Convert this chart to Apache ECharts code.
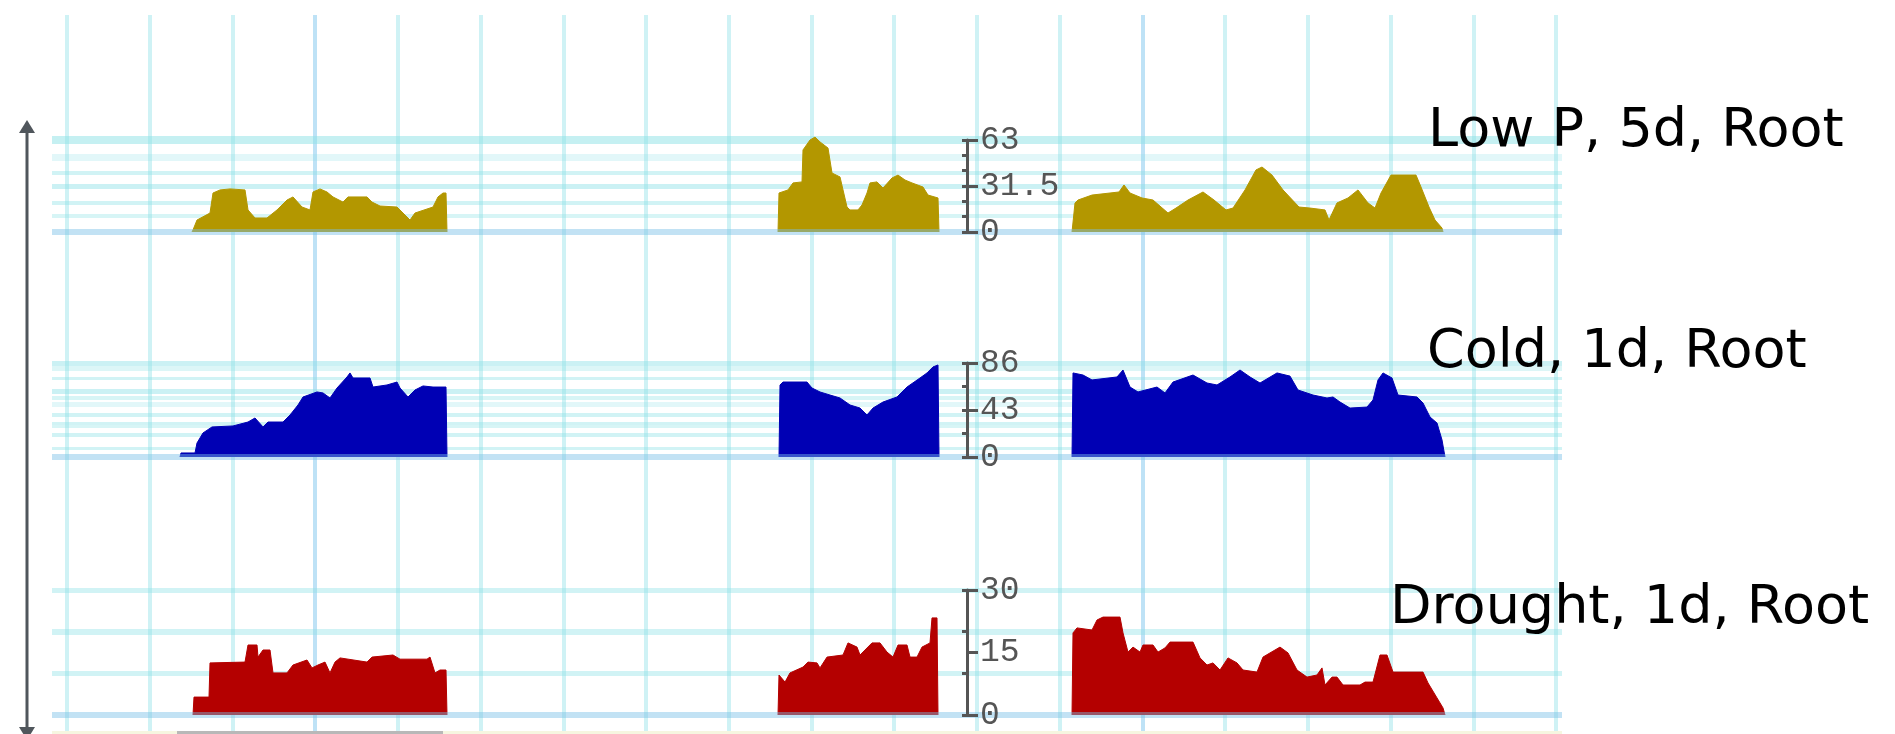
<!DOCTYPE html>
<html><head><meta charset="utf-8">
<script src="https://cdn.jsdelivr.net/npm/echarts@6/dist/echarts.min.js"></script>
<style>html,body{margin:0;padding:0;background:#fff}#c{width:1895px;height:734px}</style>
</head><body><div id="c"></div>
<script>
// ---------------- DATA ----------------
const trackNames = ['Low P, 5d, Root', 'Cold, 1d, Root', 'Drought, 1d, Root'];
const trackMax = [63, 86, 30];
const trackColors = ['#b39700', '#0000b4', '#b40000'];

// [position, coverage] pairs, one array per covered segment
const goldSeg1 = [[140,0],[141,1.4],[145,8.2],[158,13],[161,26.7],[168,28.8],[178,29.5],[193,28.8],[196,15.1],[203,9.6],[215,9.6],[225,15.1],[235,21.9],[241,24],[250,17.1],[258,15.1],[261,27.4],[268,29.5],[275,27.4],[281,24],[291,20.5],[296,24],[315,24],[320,20.5],[328,17.8],[345,17.1],[351,13],[358,8.2],[363,13],[381,17.1],[386,24],[391,26.7],[394,26.7],[395,0]];
const goldSeg2 = [[726,0],[727,26.7],[736,28.8],[741,33.6],[750,34.3],[751,56.2],[758,63],[763,65],[768,61.7],[776,57.5],[780,40.4],[788,37.7],[795,17.1],[798,15.1],[806,15.1],[810,18.5],[815,26.7],[818,33.6],[825,34.3],[831,30.1],[840,37],[846,39],[853,35.6],[860,33.6],[871,30.8],[876,25.3],[886,23.3],[887,0]];
const goldSeg3 = [[1020,0],[1023,19.9],[1026,21.9],[1040,25.3],[1067,27.4],[1072,32.2],[1078,26.7],[1090,23.3],[1101,21.9],[1116,13],[1124,16.4],[1136,21.9],[1151,27.4],[1162,21.9],[1174,15.1],[1181,16.4],[1193,28.8],[1204,42.5],[1210,44.5],[1220,39],[1231,28.8],[1247,17.1],[1258,16.4],[1273,15.1],[1277,8.2],[1285,19.9],[1296,23.3],[1306,28.8],[1316,19.9],[1323,16.4],[1329,26.7],[1339,39],[1364,39],[1369,30.8],[1377,17.1],[1383,8.2],[1390,2.7],[1391,0]];

const blueSeg1 = [[128,0],[129,3.7],[143,3.7],[145,12.8],[151,22],[160,27.5],[181,28.4],[196,32],[203,35.7],[211,27.5],[216,32],[231,32],[238,38.4],[246,47.6],[251,54.9],[265,59.5],[271,58.6],[278,54],[285,63.1],[295,73.2],[298,76.9],[301,72.3],[318,72.3],[321,64],[335,65.9],[345,68.6],[348,63.1],[356,54.9],[363,61.3],[371,65],[381,64],[394,64],[395,0]];
const blueSeg2 = [[727,0],[728,65.9],[731,68.6],[755,68.6],[760,63.1],[768,59.5],[778,56.7],[788,54],[798,47.6],[808,44.8],[815,38.4],[821,44.8],[831,50.3],[845,54.9],[855,64],[868,72.3],[875,76.9],[881,82.4],[886,84.2],[887,0]];
const blueSeg3 = [[1020,0],[1021,76.9],[1031,75],[1040,70.5],[1065,73.2],[1071,79.6],[1078,64],[1086,59.5],[1105,64],[1113,58.6],[1121,68.6],[1141,75],[1155,67.7],[1165,65.9],[1178,73.2],[1188,79.6],[1198,73.2],[1208,67.7],[1225,76.9],[1238,74],[1246,61.3],[1261,56.7],[1275,54],[1281,54.9],[1288,50.3],[1298,44.8],[1315,45.7],[1321,52.2],[1326,70.5],[1331,76.9],[1340,72.3],[1346,56.7],[1365,54.9],[1371,49.4],[1378,36.6],[1385,31.1],[1390,15.6],[1393,0]];

const redSeg1 = [[141,0],[142,4.3],[157,4.3],[158,12.5],[193,12.7],[196,16.8],[205,16.8],[206,13.9],[211,15.6],[218,15.6],[221,10.1],[235,10.1],[241,12],[255,13.2],[260,11.3],[266,12],[273,12.7],[278,10.1],[283,12.7],[288,13.7],[315,12.7],[320,13.9],[341,14.4],[348,13.4],[375,13.4],[378,13.9],[383,10.1],[388,10.8],[394,10.8],[395,0]];
const redSeg2 = [[726,0],[727,9.6],[733,7.9],[738,10.1],[751,11.5],[756,12.7],[765,12.5],[768,11.3],[775,13.9],[791,14.4],[796,17.3],[805,16.3],[808,14.4],[820,17.3],[828,17.3],[835,15.1],[841,13.9],[846,16.8],[855,16.8],[858,13.9],[865,13.9],[870,16.3],[878,17.3],[880,23.3],[885,23.3],[886,0]];
const redSeg3 = [[1020,0],[1021,19.7],[1025,20.9],[1040,20.4],[1045,22.8],[1051,23.5],[1068,23.5],[1071,19.7],[1076,15.1],[1081,16.3],[1088,15.1],[1091,16.8],[1101,16.8],[1106,15.1],[1113,16.1],[1118,17.5],[1141,17.5],[1148,13.7],[1155,12],[1161,12.5],[1168,10.8],[1176,13.7],[1185,12.5],[1191,10.8],[1205,10.3],[1211,13.9],[1218,14.9],[1228,16.3],[1236,14.9],[1245,10.8],[1255,9.1],[1265,9.6],[1270,11.3],[1273,7.2],[1280,9.1],[1285,9.1],[1291,7.2],[1308,7.2],[1313,7.9],[1321,7.9],[1328,14.4],[1335,14.4],[1341,10.3],[1371,10.3],[1376,7.7],[1385,4.1],[1391,1.7],[1393,0]];

// horizontal guide values per track
const goldRuleValues = [63, 51.4, 40.4, 31.5, 19.9, 11];
const blueRuleValues = [86, 81, 72.5, 60, 54, 48, 39, 31, 28, 20.1, 8];
const redRuleValues = [30, 20, 10];
const minorTickStep = [10.5, 21.5, 10];

// ---------------- LAYOUT / STYLE ----------------
const segs = [[goldSeg1, goldSeg2, goldSeg3], [blueSeg1, blueSeg2, blueSeg3], [redSeg1, redSeg2, redSeg3]];
const rules = [goldRuleValues, blueRuleValues, redRuleValues];
const ruleWidths = [[8,7,4,5,4,4],[5,5,3,5,4,5,4,3,3,4,3],[5,6,5]];
const ruleAlpha = [[0.5,0.25,0.4,0.45,0.4,0.35],[0.45,0.3,0.4,0.45,0.35,0.25,0.4,0.4,0.35,0.4,0.4],[0.4,0.4,0.4]];
const trackLayout = [{top:140,h:92},{top:363,h:94},{top:590,h:125}];
const labelPos = [{left:1428,top:105},{left:1427,top:326},{left:1390,top:582}];
const plotLeft = 52, plotWidth = 1510, bracketX = 967;

const grid = [{left:67, width:1489, top:15, bottom:0}];
const cy = 'rgba(140,225,232,0.42)';
const xAxis = [{gridIndex:0, type:'value', min:0, max:18, interval:1, show:true,
  axisLine:{show:false}, axisTick:{show:false}, axisLabel:{show:false},
  splitLine:{show:true, lineStyle:{width:4, color:[cy,cy,cy,'rgba(110,190,235,0.45)',cy,cy,cy,cy,cy,cy]}}}];
const yAxis = [{gridIndex:0, type:'value', min:0, max:1, show:false}];
const series = [];

trackLayout.forEach((L, t) => {
  const gi = t + 1;
  grid.push({left:plotLeft, width:plotWidth, top:L.top, height:L.h});
  xAxis.push({gridIndex:gi, type:'value', min:0, max:1510, show:false});
  const yData = yAxis.length;
  yAxis.push({gridIndex:gi, type:'value', min:0, max:trackMax[t], show:false});
  // bracket axis with labels
  yAxis.push({gridIndex:gi, type:'value', min:0, max:trackMax[t], interval:trackMax[t]/2,
    position:'left', offset:-(bracketX - plotLeft), z:6,
    axisLine:{show:true, lineStyle:{color:'#555', width:3}},
    axisTick:{show:true, inside:true, length:11, lineStyle:{color:'#555', width:3}},
    axisLabel:{show:true, inside:true, margin:13, color:'#555', fontSize:33, fontFamily:'Liberation Mono'},
    splitLine:{show:false}});
  // minor outward ticks
  yAxis.push({gridIndex:gi, type:'value', min:0, max:trackMax[t], interval:minorTickStep[t],
    position:'left', offset:-(bracketX - plotLeft), z:6,
    axisLine:{show:false}, axisTick:{show:true, inside:false, length:5, lineStyle:{color:'#555', width:3}},
    axisLabel:{show:false}, splitLine:{show:false}});

  series.push({type:'line', xAxisIndex:gi, yAxisIndex:yData, data:[], z:1, silent:true, animation:false,
    markLine:{silent:true, z:1, symbol:'none', label:{show:false}, animation:false,
      data: rules[t].map((v, i) => ({yAxis:v, lineStyle:{type:'solid', width:ruleWidths[t][i], color:'rgba(140,225,230,'+ruleAlpha[t][i]+')'}}))}});
  segs[t].forEach(seg => {
    series.push({type:'line', xAxisIndex:gi, yAxisIndex:yData, data:seg, symbol:'none', clip:false, z:3,
      lineStyle:{width:1, color:trackColors[t]}, areaStyle:{color:trackColors[t], opacity:1}, silent:true, animation:false});
  });
  series.push({type:'line', xAxisIndex:gi, yAxisIndex:yData, data:[], z:5, silent:true, animation:false,
    markLine:{silent:true, z:5, symbol:'none', label:{show:false}, animation:false,
      data:[{yAxis:0, lineStyle:{type:'solid', width:6, color:'rgba(120,190,230,0.45)'}}]}});
});

const title = trackNames.map((n, t) => ({text:n, left:labelPos[t].left, top:labelPos[t].top, padding:0,
  textStyle:{fontSize:54, fontFamily:'DejaVu Sans', fontWeight:'normal', color:'#000'}}));

const graphic = [
  {type:'line', shape:{x1:27, y1:128, x2:27, y2:730}, style:{stroke:'#50565c', lineWidth:3}, z:10},
  {type:'polygon', shape:{points:[[19,133],[27,120],[35,133]]}, style:{fill:'#50565c'}, z:10},
  {type:'polygon', shape:{points:[[19,727],[27,740],[35,727]]}, style:{fill:'#50565c'}, z:10},
  {type:'rect', shape:{x:52, y:731, width:1510, height:3}, style:{fill:'#f6f6e0'}, z:10},
  {type:'rect', shape:{x:177, y:731, width:266, height:3}, style:{fill:'#b8b8b8'}, z:11}
];

const chart = echarts.init(document.getElementById('c'));
chart.setOption({animation:false, backgroundColor:'#fff', title, grid, xAxis, yAxis, series, graphic});
</script></body></html>
